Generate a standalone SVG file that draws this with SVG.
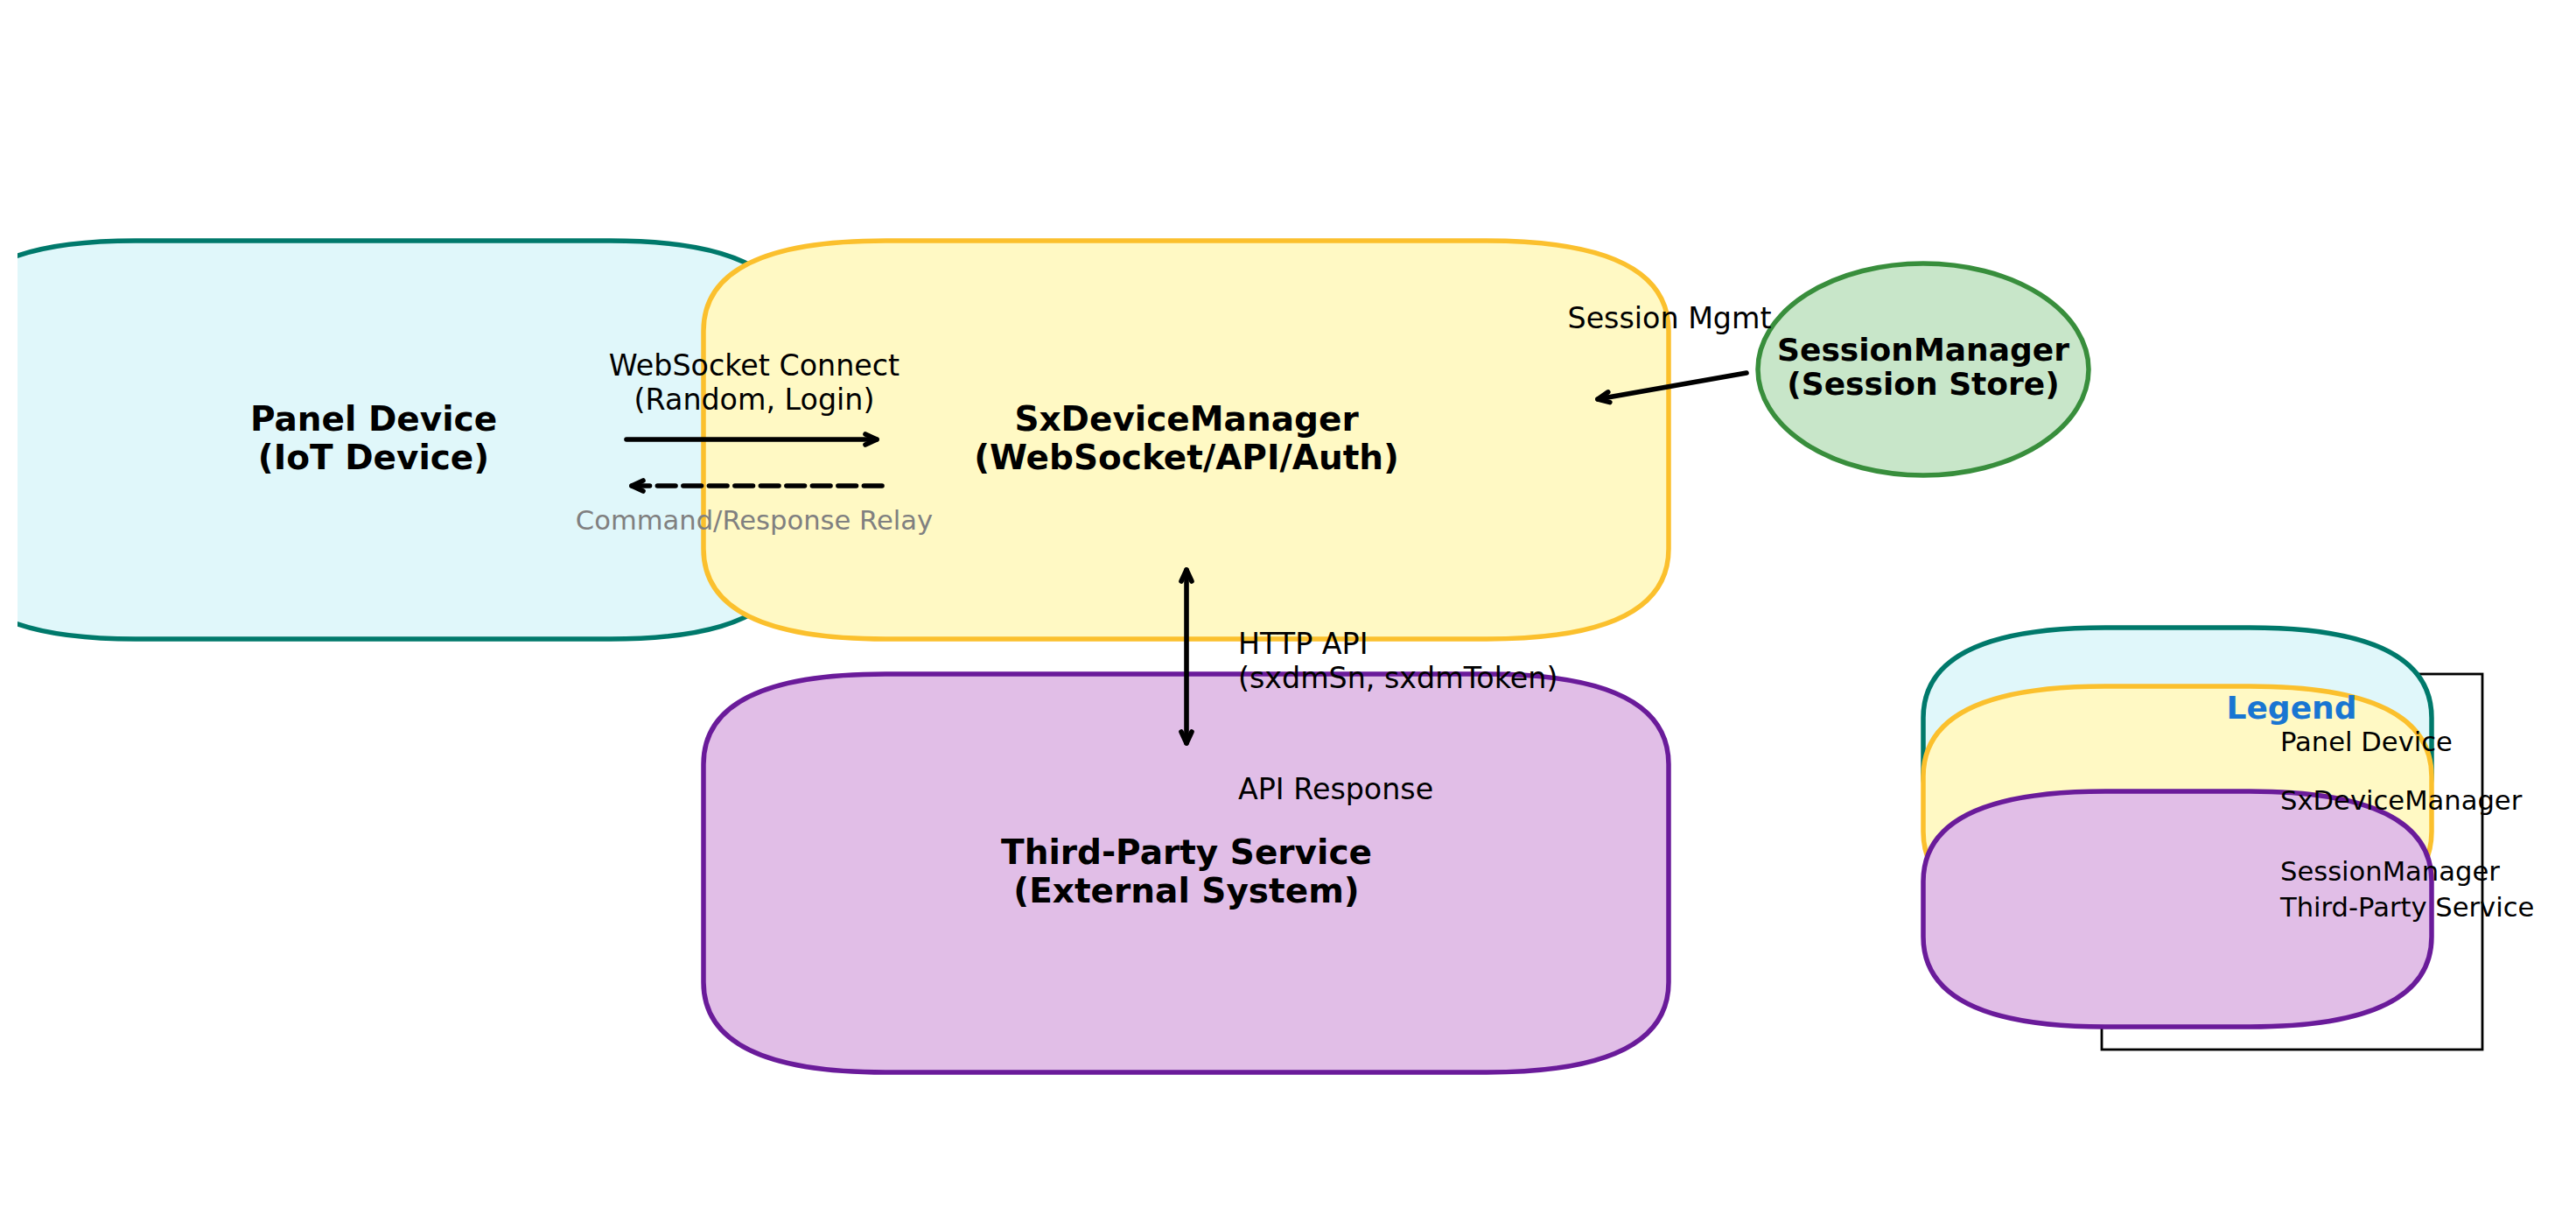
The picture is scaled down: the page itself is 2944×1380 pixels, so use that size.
<svg xmlns="http://www.w3.org/2000/svg" width="2944" height="1380" viewBox="0 0 2944 1380">
<style>
text{font-family:"DejaVu Sans","Liberation Sans",sans-serif;fill:#000}
.nb{font-weight:bold;font-size:39px;text-anchor:middle}
.sb{font-weight:bold;font-size:36px;text-anchor:middle}
.lb{font-size:33.3px}
.lg{font-size:30.6px}
.box{stroke-width:5.5;stroke-linejoin:round}
.teal{fill:#e0f7fa;stroke:#00796b}
.yel{fill:#fff9c4;stroke:#fbc02d}
.pur{fill:#e1bee7;stroke:#6a1b9a}
.grn{fill:#c8e6c9;stroke:#388e3c}
.ln{fill:none;stroke:#000;stroke-width:5.6;stroke-linecap:round}
.dash{fill:none;stroke:#000;stroke-width:5.6;stroke-linecap:round;stroke-dasharray:20.6 8.9}
</style>
<defs>
<clipPath id="ax"><rect x="20" y="0" width="2924" height="1380"/></clipPath>
<marker id="ah" markerUnits="userSpaceOnUse" markerWidth="40" markerHeight="40" viewBox="-20 -20 40 40" refX="0" refY="0" orient="auto-start-reverse" overflow="visible">
<path d="M-13,-6 L0,0 L-13,6" fill="none" stroke="#000" stroke-width="5.6" stroke-linecap="round" stroke-linejoin="round"/>
</marker>
</defs>
<rect x="0" y="0" width="2944" height="1380" fill="#fff"/>

<g id="panel-device">
<path class="box teal" clip-path="url(#ax)" d="M155,275 L697,275 Q905,275 905,378 L905,627 Q905,730 697,730 L155,730 Q-53,730 -53,627 L-53,378 Q-53,275 155,275 Z"/>
</g>
<g id="sx-device-manager">
<path class="box yel" d="M1012,275 L1699,275 Q1907,275 1907,378 L1907,627 Q1907,730 1699,730 L1012,730 Q804,730 804,627 L804,378 Q804,275 1012,275 Z"/>
</g>
<g id="third-party-service">
<path class="box pur" d="M1012,770 L1699,770 Q1907,770 1907,873 L1907,1122 Q1907,1225 1699,1225 L1012,1225 Q804,1225 804,1122 L804,873 Q804,770 1012,770 Z"/>
</g>
<g id="session-manager">
<ellipse class="box grn" cx="2198" cy="422" rx="189" ry="121"/>
</g>

<g id="connectors">
<line class="ln" x1="716" y1="502" x2="1002" y2="502" marker-end="url(#ah)"/>
<line class="dash" x1="1008" y1="555" x2="722" y2="555" marker-end="url(#ah)"/>
<line class="ln" x1="1996" y1="426" x2="1826" y2="456" marker-end="url(#ah)"/>
<line class="ln" x1="1356" y1="651" x2="1356" y2="849" marker-start="url(#ah)" marker-end="url(#ah)"/>
</g>

<g id="labels">
<text class="nb" x="427"><tspan x="427" y="492">Panel Device</tspan><tspan x="427" y="536">(IoT Device)</tspan></text>
<text class="nb" x="1356"><tspan x="1356" y="492">SxDeviceManager</tspan><tspan x="1356" y="536">(WebSocket/API/Auth)</tspan></text>
<text class="nb" x="1356"><tspan x="1356" y="987">Third-Party Service</tspan><tspan x="1356" y="1031">(External System)</tspan></text>
<text class="sb" x="2198"><tspan x="2198" y="412">SessionManager</tspan><tspan x="2198" y="451">(Session Store)</tspan></text>
<text class="lb" text-anchor="middle"><tspan x="862" y="429">WebSocket Connect</tspan><tspan x="862" y="468">(Random, Login)</tspan></text>
<text class="lg" x="862" y="605" text-anchor="middle" style="fill:#808080">Command/Response Relay</text>
<text class="lb" x="1908" y="375" text-anchor="middle">Session Mgmt</text>
<text class="lb"><tspan x="1415" y="747">HTTP API</tspan><tspan x="1415" y="786">(sxdmSn, sxdmToken)</tspan></text>
<text class="lb" x="1415" y="913">API Response</text>
</g>

<g id="legend">
<rect x="2402" y="770" width="435" height="429" fill="#fff" stroke="#000" stroke-width="2.8"/>
<path class="box teal" d="M2406,717 L2571,717 Q2779,717 2779,820 L2779,883 Q2779,986 2571,986 L2406,986 Q2198,986 2198,883 L2198,820 Q2198,717 2406,717 Z"/>
<path class="box yel" d="M2406,784 L2571,784 Q2779,784 2779,887 L2779,950 Q2779,1053 2571,1053 L2406,1053 Q2198,1053 2198,950 L2198,887 Q2198,784 2406,784 Z"/>
<path class="box pur" d="M2406,904 L2571,904 Q2779,904 2779,1007 L2779,1070 Q2779,1173 2571,1173 L2406,1173 Q2198,1173 2198,1070 L2198,1007 Q2198,904 2406,904 Z"/>
<text x="2619" y="821" text-anchor="middle" style="font-weight:bold;font-size:36px;fill:#1976d2">Legend</text>
<text class="lg" x="2606" y="858">Panel Device</text>
<text class="lg" x="2606" y="925">SxDeviceManager</text>
<text class="lg" x="2606" y="1006">SessionManager</text>
<text class="lg" x="2606" y="1047">Third-Party Service</text>
</g>
</svg>
